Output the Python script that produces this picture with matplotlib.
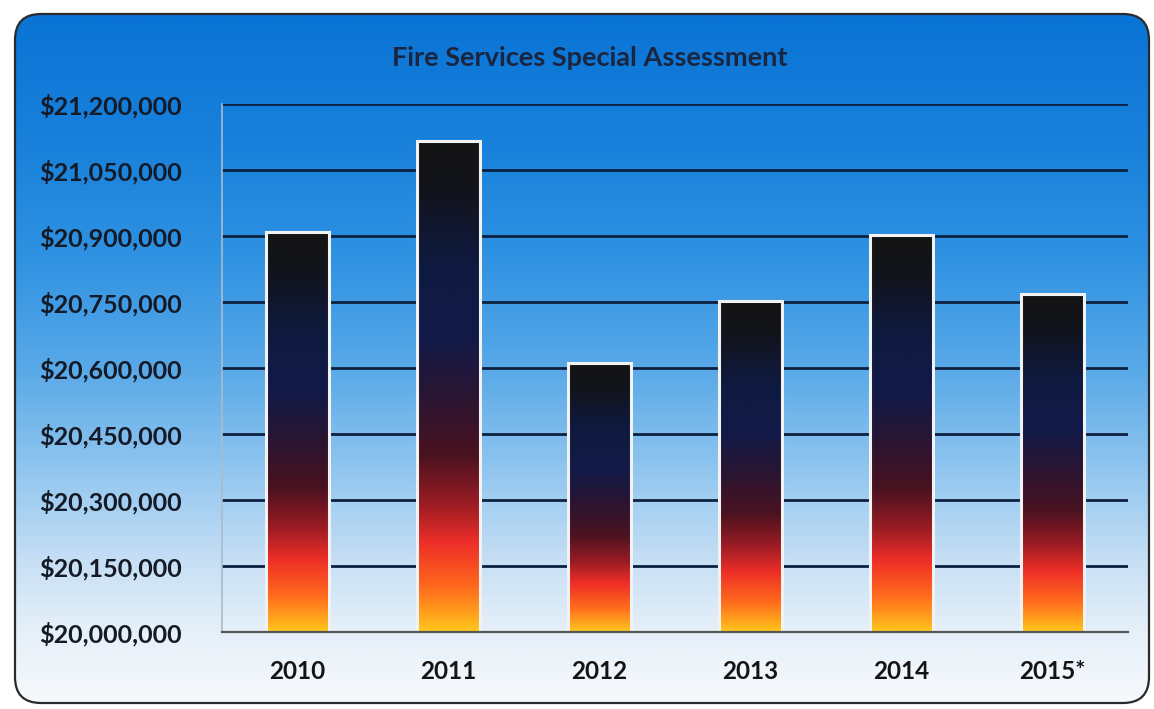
import matplotlib
matplotlib.use('Agg')
import matplotlib.pyplot as plt
import numpy as np
from matplotlib.colors import LinearSegmentedColormap
from matplotlib.patches import FancyBboxPatch
from matplotlib.ticker import FuncFormatter

# =============================
# DATOS
# =============================
anios = ["2010", "2011", "2012", "2013", "2014", "2015*"]
montos = [20910000, 21115000, 20612000, 20752000, 20902000, 20768000]
titulo = "Fire Services Special Assessment"

y_min = 20000000
y_max = 21200000
y_paso = 150000

plt.rcParams['font.family'] = ['Lato', 'DejaVu Sans']

W, H = 1154, 709
fig = plt.figure(figsize=(W / 100, H / 100), dpi=100)
fig.patch.set_facecolor('white')

# =============================
# FONDO (rectangulo redondeado con degradado azul)
# =============================
fondo = fig.add_axes([0, 0, 1, 1], zorder=0)
fondo.set_xlim(0, W)
fondo.set_ylim(H, 0)
fondo.axis('off')

caja = FancyBboxPatch((15, 14), 1134, 689,
                      boxstyle="round,pad=0,rounding_size=26",
                      facecolor='none', edgecolor='#2a2a2a', linewidth=1.6, zorder=3)
fondo.add_patch(caja)

cmap_fondo = LinearSegmentedColormap.from_list("cielo", [
    (0.00, '#0a74d6'),
    (0.20, '#1a82dc'),
    (0.35, '#2f92e2'),
    (0.52, '#5aaae8'),
    (0.68, '#98c9f0'),
    (0.80, '#c8e0f5'),
    (0.90, '#e6f0f9'),
    (1.00, '#f6f9fc'),
])
grad = np.linspace(0, 1, 400).reshape(-1, 1)
img = fondo.imshow(grad, cmap=cmap_fondo, aspect='auto',
                   extent=(15, 1149, 703, 14), zorder=1)
clip = FancyBboxPatch((15, 14), 1134, 689,
                      boxstyle="round,pad=0,rounding_size=26",
                      facecolor='none', edgecolor='none', transform=fondo.transData)
img.set_clip_path(clip)

# =============================
# GRAFICO DE BARRAS
# =============================
ax = fig.add_axes([222 / W, 1 - 632 / H, (1128 - 222) / W, (632 - 104) / H], zorder=1)
ax.set_facecolor('none')

x = np.arange(len(anios))
barras = ax.bar(x, [m - y_min for m in montos], bottom=y_min, width=0.42,
                facecolor='none', edgecolor='#f2f2f2', linewidth=2.2, zorder=4)

cmap_fuego = LinearSegmentedColormap.from_list("fuego", [
    (0.00, '#141414'),
    (0.10, '#12141c'),
    (0.25, '#0f1a40'),
    (0.40, '#121a48'),
    (0.52, '#2a1532'),
    (0.64, '#4a1220'),
    (0.74, '#9a1c24'),
    (0.82, '#ee2e28'),
    (0.91, '#ff6a1c'),
    (1.00, '#ffc61c'),
])
degradado = np.linspace(0, 1, 256).reshape(-1, 1)
for b in barras:
    x0, y0 = b.get_x(), b.get_y()
    im = ax.imshow(degradado, cmap=cmap_fuego, aspect='auto',
                   extent=(x0, x0 + b.get_width(), y0, y0 + b.get_height()),
                   zorder=3)
    im.set_clip_path(b)

ax.set_xlim(-0.5, len(anios) - 0.5)
ax.set_ylim(y_min, y_max)
ax.set_yticks(np.arange(y_min, y_max + 1, y_paso))
ax.yaxis.set_major_formatter(FuncFormatter(lambda v, p: "${:,.0f}".format(v)))
ax.set_xticks(x)
ax.set_xticklabels(anios)

ax.grid(axis='y', color='#0c2140', linewidth=2.0, zorder=1)
ax.set_axisbelow(True)

for lado in ['top', 'right']:
    ax.spines[lado].set_visible(False)
ax.spines['left'].set_color('#a9bccb')
ax.spines['left'].set_linewidth(1.2)
ax.spines['bottom'].set_color('#555555')
ax.spines['bottom'].set_linewidth(1.6)
ax.spines['bottom'].set_zorder(5)

ax.tick_params(axis='y', length=0, pad=29, labelsize=18, labelcolor='#141a26')
ax.tick_params(axis='x', length=0, pad=20, labelsize=17.5, labelcolor='#141414')
for t in ax.get_yticklabels() + ax.get_xticklabels():
    t.set_fontweight('bold')

fig.text(590 / W, 1 - 58 / H, titulo, ha='center', va='center',
         fontsize=19.5, fontweight='bold', color='#1a2540')

plt.savefig("out.png", dpi=100)
